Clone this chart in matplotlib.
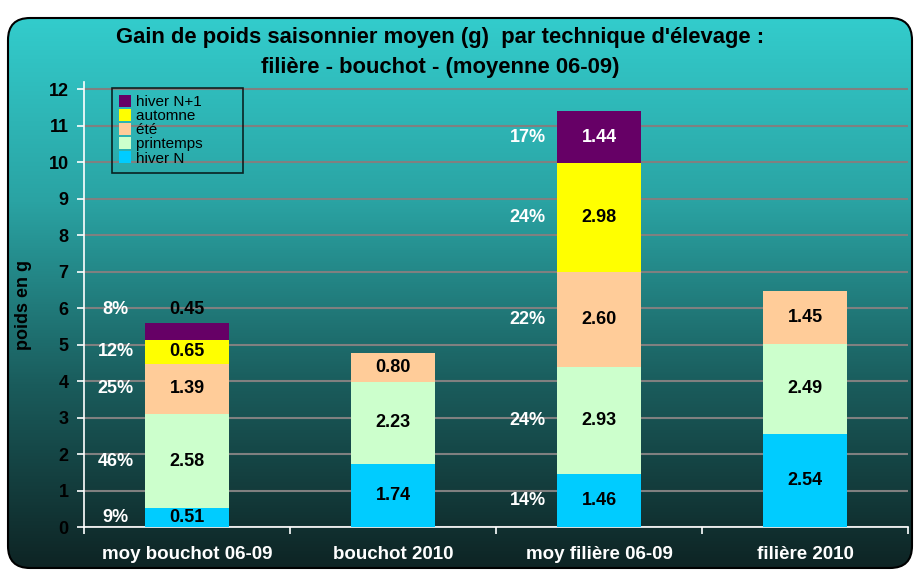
import matplotlib
matplotlib.use("Agg")
import matplotlib.pyplot as plt
import numpy as np
from matplotlib.patches import FancyBboxPatch
from matplotlib.colors import LinearSegmentedColormap

plt.rcParams["font.family"] = ["Liberation Sans", "DejaVu Sans"]

categories = ["moy bouchot 06-09", "bouchot 2010", "moy filière 06-09", "filière 2010"]
series = ["hiver N", "printemps", "été", "automne", "hiver N+1"]
hiver_n = [0.51, 1.74, 1.46, 2.54]
printemps = [2.58, 2.23, 2.93, 2.49]
ete = [1.39, 0.80, 2.60, 1.45]
automne = [0.65, 0.0, 2.98, 0.0]
hiver_n1 = [0.45, 0.0, 1.44, 0.0]
pct_bouchot = ["9%", "46%", "25%", "12%", "8%"]
pct_filiere = ["14%", "24%", "22%", "24%", "17%"]
colors = ["#00CCFF", "#CCFFCC", "#FFCC99", "#FFFF00", "#660066"]
yticks = list(range(0, 13))

values = [hiver_n, printemps, ete, automne, hiver_n1]
pcts = {0: pct_bouchot, 2: pct_filiere}

W, H = 914, 570
fig = plt.figure(figsize=(W / 100, H / 100), dpi=100)
fig.patch.set_facecolor("white")

# background gradient panel with rounded corners
bg = fig.add_axes([0, 0, 1, 1], zorder=0)
bg.set_xlim(0, W)
bg.set_ylim(H, 0)
bg.axis("off")
cmap = LinearSegmentedColormap.from_list("g", ["#33CCCC", "#2aa3a3", "#1a5c5c", "#0e2424"])
grad = np.linspace(0, 1, 256).reshape(-1, 1)
im = bg.imshow(grad, cmap=cmap, aspect="auto", extent=[8, 912, 568, 18], zorder=0)
panel = FancyBboxPatch((8, 18), 904, 550, boxstyle="round,pad=0,rounding_size=22",
                       facecolor="none", edgecolor="black", linewidth=1.5, zorder=2)
bg.add_patch(panel)
im.set_clip_path(panel)

ax = fig.add_axes([84 / W, 1 - 527 / H, (908 - 84) / W, (527 - 82) / H], zorder=1)
ax.patch.set_alpha(0)
x = np.arange(len(categories))
width = 0.41
bottom = np.zeros(len(categories))
for i, (name, vals, col) in enumerate(zip(series, values, colors)):
    vals = np.array(vals)
    ax.bar(x, vals, width, bottom=bottom, color=col, label=name, zorder=3)
    for j, v in enumerate(vals):
        if v <= 0:
            continue
        yc = bottom[j] + v / 2
        small = v < 0.5
        ylab = bottom[j] + v + 0.38 if small else yc
        tcol = "white" if col == "#660066" and not small else "black"
        ax.text(x[j], ylab, f"{v:.2f}", ha="center", va="center", fontsize=13,
                fontweight="bold", color=tcol, zorder=4)
        if j in pcts:
            ax.text(x[j] - 0.345, ylab, pcts[j][i], ha="center", va="center", fontsize=13,
                    fontweight="bold", color="white", zorder=4)
    bottom = bottom + vals

ax.set_xlim(-0.5, 3.5)
ax.set_ylim(0, 12.2)
ax.set_yticks(yticks)
ax.set_yticklabels([str(t) for t in yticks], fontsize=13, fontweight="bold")
ax.yaxis.grid(True, color="#808080", linewidth=1.5, zorder=1)
ax.set_axisbelow(True)
ax.set_xticks(x)
ax.set_xticklabels(categories, fontsize=13.5, fontweight="bold", color="white")
ax.set_xticks(np.arange(-0.5, 4, 1), minor=True)
ax.tick_params(axis="x", which="major", length=0, pad=14)
ax.tick_params(axis="x", which="minor", length=5, color="white", width=1.2)
ax.tick_params(axis="y", length=5, color="white", width=1.2, pad=6)
for s in ["top", "right"]:
    ax.spines[s].set_visible(False)
ax.spines["left"].set_color("white")
ax.spines["bottom"].set_color("white")
ax.spines["left"].set_linewidth(1.2)
ax.spines["bottom"].set_linewidth(1.2)
ax.set_ylabel("poids en g", fontsize=13, fontweight="bold", labelpad=12)

h, l = ax.get_legend_handles_labels()
leg = ax.legend(h[::-1], l[::-1], loc="upper left", bbox_to_anchor=(28 / 824, 1 - 6 / 445),
                frameon=True, fontsize=11, handlelength=0.8, handleheight=0.8,
                labelspacing=0.0, borderpad=0.45, handletextpad=0.3, fancybox=False,
                borderaxespad=0)
leg.get_frame().set_facecolor("none")
leg.get_frame().set_edgecolor("black")
leg.get_frame().set_linewidth(1.2)
for t in leg.get_texts():
    t.set_text(t.get_text() + "        ")

fig.text(440 / W, 1 - 37 / H, "Gain de poids saisonnier moyen (g)  par technique d'élevage :",
         ha="center", va="center", fontsize=15.8, fontweight="bold")
fig.text(440 / W, 1 - 67 / H, "filière - bouchot - (moyenne 06-09)",
         ha="center", va="center", fontsize=15.8, fontweight="bold")

fig.savefig("out.png", dpi=100)
